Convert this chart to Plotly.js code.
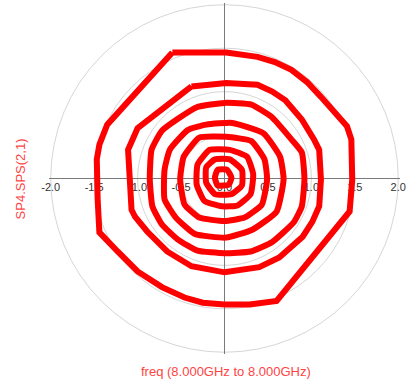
<!DOCTYPE html>
<html>
<head>
<meta charset="utf-8">
<script src="https://cdn.plot.ly/plotly-3.0.1.min.js"></script>
<style>html,body{margin:0;padding:0;background:#fff}</style>
</head>
<body>
<div id="chart" style="width:410px;height:388px"></div>
<script>
const loop1X = [-0.60, -0.29, 0.02, 0.38, 0.58, 0.77, 0.95, 1.11, 1.26, 1.41, 1.46, 1.47, 1.44, 0.60, 0.29, 0.00, -0.25, -0.46, -0.72, -1.00, -1.23, -1.44, -1.46, -1.47, -1.44, -1.35, -0.60];
const loop1Y = [1.45, 1.45, 1.45, 1.40, 1.34, 1.25, 1.11, 0.94, 0.78, 0.60, 0.45, -0.01, -0.38, -1.41, -1.45, -1.45, -1.43, -1.37, -1.25, -1.07, -0.84, -0.62, -0.24, 0.22, 0.39, 0.62, 1.45];
const loop2X = [-0.38, 0.02, 0.38, 0.55, 0.70, 0.89, 1.03, 1.09, 1.11, 1.09, 1.01, 0.90, 0.63, 0.40, 0.00, -0.38, -0.66, -0.89, -1.03, -1.07, -1.09, -1.11, -1.00, -0.38];
const loop2Y = [1.06, 1.10, 1.08, 1.00, 0.90, 0.68, 0.45, 0.33, -0.01, -0.32, -0.50, -0.67, -0.91, -1.02, -1.08, -1.01, -0.84, -0.61, -0.44, -0.36, -0.01, 0.33, 0.58, 1.06];
const loop3X = [-0.32, 0.00, 0.31, 0.54, 0.77, 0.89, 0.92, 0.89, 0.80, 0.55, 0.30, 0.00, -0.31, -0.54, -0.72, -0.83, -0.86, -0.84, -0.72, -0.32];
const loop3Y = [0.82, 0.87, 0.85, 0.71, 0.45, 0.30, -0.01, -0.32, -0.50, -0.73, -0.84, -0.86, -0.83, -0.70, -0.53, -0.32, -0.01, 0.33, 0.55, 0.82];
const loop4X = [-0.42, -0.21, 0.09, 0.45, 0.64, 0.68, 0.60, 0.32, 0.02, -0.34, -0.56, -0.69, -0.69, -0.63, -0.42];
const loop4Y = [0.56, 0.62, 0.64, 0.52, 0.25, -0.01, -0.38, -0.59, -0.68, -0.64, -0.45, -0.24, 0.10, 0.33, 0.56];
const loop5X = [-0.29, 0.02, 0.31, 0.46, 0.49, 0.43, 0.23, 0.00, -0.29, -0.46, -0.51, -0.47, -0.29];
const loop5Y = [0.47, 0.48, 0.43, 0.22, -0.01, -0.30, -0.45, -0.49, -0.45, -0.30, -0.01, 0.25, 0.47];
const loop6X = [-0.17, 0.06, 0.26, 0.33, 0.30, 0.15, -0.03, -0.23, -0.32, -0.31, -0.17];
const loop6Y = [0.33, 0.33, 0.25, 0.05, -0.18, -0.31, -0.32, -0.26, -0.07, 0.16, 0.33];
const loop7X = [-0.11, 0.06, 0.20, 0.20, 0.08, -0.11, -0.21, -0.21, -0.11];
const loop7Y = [0.22, 0.22, 0.10, -0.08, -0.18, -0.18, -0.05, 0.13, 0.22];
const loop8X = [-0.08, 0.03, 0.08, 0.05, -0.08, -0.11, -0.08];
const loop8Y = [0.10, 0.10, 0.01, -0.07, -0.08, 0.01, 0.10];

const tickVals = [-2, -1.5, -1, -0.5, 0, 0.5, 1, 1.5, 2];
const tickText = ['-2.0', '-1.5', '-1.0', '-0.5', '0.0', '0.5', '1.0', '1.5', '2.0'];
const gridRadii = [0.5, 1, 1.5, 2];

const xTitle = 'freq (8.000GHz to 8.000GHz)';
const yTitle = 'SP4.SPS(2,1)';

const loopsX = [loop1X, loop2X, loop3X, loop4X, loop5X, loop6X, loop7X, loop8X];
const loopsY = [loop1Y, loop2Y, loop3Y, loop4Y, loop5Y, loop6Y, loop7Y, loop8Y];

const traces = loopsX.map((lx, i) => ({
  type: 'scatter',
  mode: 'lines',
  x: lx,
  y: loopsY[i],
  line: i < 2 ? {color: '#ff0000', width: 6}
              : {color: '#ff0000', width: 6, shape: 'spline', smoothing: 0.45},
  hoverinfo: 'skip',
  showlegend: false
}));

const shapes = gridRadii.map(r => ({
  type: 'circle', xref: 'x', yref: 'y',
  x0: -r, y0: -r, x1: r, y1: r,
  line: {color: '#d6d6d6', width: 1},
  layer: 'below'
}));

const fontFam = 'Liberation Sans, Arial, Helvetica, sans-serif';
const layout = {
  width: 410, height: 388,
  margin: {l: 49, r: 10, t: 3, b: 34, pad: 0},
  paper_bgcolor: '#fff', plot_bgcolor: '#fff',
  showlegend: false,
  xaxis: {
    range: [-2.02, 2.02],
    anchor: 'free', position: 0.5,
    showgrid: false, showline: false,
    zeroline: true, zerolinecolor: '#7a7a7a', zerolinewidth: 1,
    tickvals: tickVals, ticktext: tickText,
    ticks: '', ticklen: 0,
    tickfont: {family: fontFam, size: 11, color: '#333'},
    layer: 'below traces',
    fixedrange: true
  },
  yaxis: {
    range: [-2.02, 2.02],
    showgrid: false, showline: false, showticklabels: false,
    zeroline: true, zerolinecolor: '#7a7a7a', zerolinewidth: 1,
    ticks: '',
    layer: 'below traces',
    fixedrange: true
  },
  shapes: shapes,
  annotations: [
    {text: xTitle, xref: 'paper', yref: 'paper', x: 0.505, y: -0.051,
     xanchor: 'center', yanchor: 'middle', showarrow: false,
     font: {family: fontFam, size: 13, color: '#ff4343'}},
    {text: yTitle, xref: 'paper', yref: 'paper', x: -0.08, y: 0.5,
     xanchor: 'center', yanchor: 'middle', showarrow: false, textangle: -90,
     font: {family: fontFam, size: 13, color: '#ff4343'}}
  ]
};

Plotly.newPlot('chart', traces, layout, {displayModeBar: false, staticPlot: true});
</script>
</body>
</html>
